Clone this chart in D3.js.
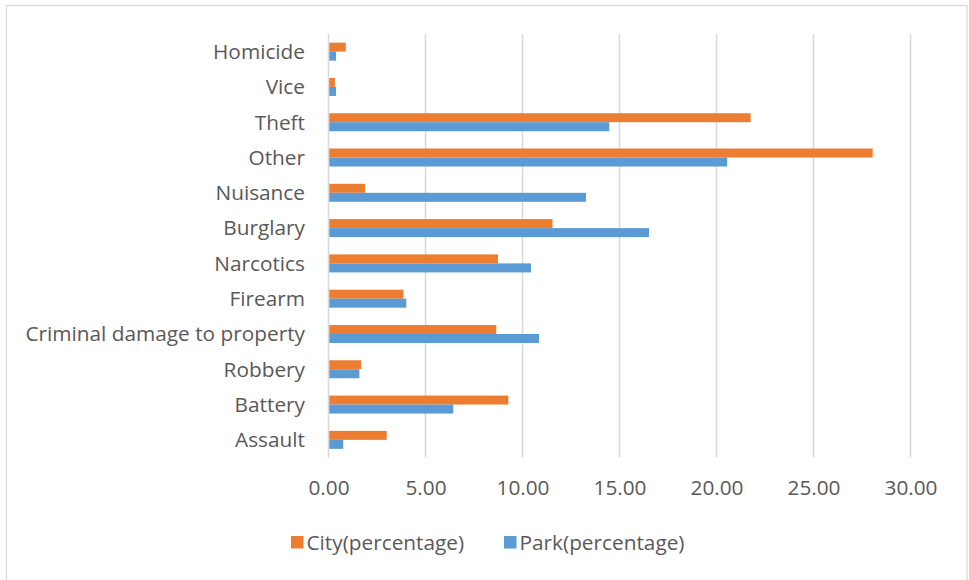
<!DOCTYPE html>
<html>
<head>
<meta charset="utf-8">
<script src="https://cdn.jsdelivr.net/npm/d3@7/dist/d3.min.js"></script>
<style>
  html, body { margin: 0; padding: 0; background: #fff; }
  svg { display: block; }
  text { font-family: "Open Sans", Lato, sans-serif; fill: #595959; }
</style>
</head>
<body>
<svg id="chart" width="969" height="580"></svg>
<script>
// Crime categories, listed top to bottom
const categories = ["Homicide", "Vice", "Theft", "Other", "Nuisance", "Burglary",
  "Narcotics", "Firearm", "Criminal damage to property", "Robbery", "Battery", "Assault"];
// Share of incidents (%) per category
const cityValues = [0.89, 0.33, 21.76, 28.05, 1.88, 11.55, 8.74, 3.86, 8.65, 1.69, 9.27, 3.0];
const parkValues = [0.39, 0.39, 14.47, 20.55, 13.27, 16.52, 10.44, 4.01, 10.85, 1.59, 6.43, 0.76];
const seriesNames = ["City(percentage)", "Park(percentage)"];
const seriesKeys = ["city", "park"];
const xTicks = [0, 5, 10, 15, 20, 25, 30];

const colors = { city: "#ED7D31", park: "#5B9BD5" };
const FONT = "'Open Sans', Lato, sans-serif";
const FONT_SIZE = 20.8;

const rows = categories.map((c, i) => ({ category: c, city: cityValues[i], park: parkValues[i] }));

const svg = d3.select("#chart");
const W = 969, H = 580;
const plot = { left: 328.5, right: 910.5, top: 34, bottom: 457.5 };

// Chart frame
svg.append("rect")
  .attr("x", 6.5).attr("y", 5.5)
  .attr("width", W - 2 - 6.5).attr("height", H + 10)
  .attr("fill", "#fff").attr("stroke", "#d9d9d9").attr("stroke-width", 1.3);

const x = d3.scaleLinear().domain([0, 30]).range([plot.left, plot.right]);
const y = d3.scaleBand().domain(categories).range([plot.top, plot.bottom])
  .paddingInner(0.49).paddingOuter(0.245);
const ySub = d3.scaleBand().domain(seriesKeys).range([0, y.bandwidth()]);

// Vertical gridlines
svg.append("g")
  .selectAll("line")
  .data(xTicks)
  .join("line")
  .attr("x1", d => x(d)).attr("x2", d => x(d))
  .attr("y1", plot.top).attr("y2", plot.bottom)
  .attr("stroke", "#d9d9d9").attr("stroke-width", 1.6);

// Bars
const groups = svg.append("g")
  .selectAll("g")
  .data(rows)
  .join("g")
  .attr("transform", d => `translate(0,${y(d.category)})`);

groups.selectAll("rect")
  .data(d => seriesKeys.map(k => ({ key: k, value: d[k] })))
  .join("rect")
  .attr("x", x(0) + 0.8)
  .attr("y", d => ySub(d.key))
  .attr("width", d => x(d.value) - x(0) - 0.8)
  .attr("height", ySub.bandwidth())
  .attr("fill", d => colors[d.key]);

// Category labels
const yAxis = d3.axisLeft(y).tickSize(0).tickPadding(0);
const gy = svg.append("g")
  .attr("transform", `translate(305,0)`)
  .call(yAxis);
gy.select(".domain").remove();
gy.selectAll("text")
  .attr("font-size", FONT_SIZE)
  .style("font-family", FONT)
  .attr("fill", "#595959")
  .attr("dy", "0.35em");

// Value axis labels
const xAxis = d3.axisBottom(x).tickValues(xTicks).tickFormat(d3.format(".2f")).tickSize(0).tickPadding(0);
const gx = svg.append("g")
  .attr("transform", `translate(0,488)`)
  .call(xAxis);
gx.select(".domain").remove();
gx.selectAll("text")
  .attr("font-size", FONT_SIZE)
  .style("font-family", FONT)
  .attr("fill", "#595959")
  .attr("dy", "0.35em");

// Legend
const legendItems = [
  { name: seriesNames[0], key: "city", x: 291 },
  { name: seriesNames[1], key: "park", x: 504 }
];
const legend = svg.append("g")
  .selectAll("g")
  .data(legendItems)
  .join("g")
  .attr("transform", d => `translate(${d.x},536)`);
legend.append("rect")
  .attr("width", 12.5).attr("height", 12.5)
  .attr("fill", d => colors[d.key]);
legend.append("text")
  .attr("x", 15.5).attr("y", 6.5)
  .attr("dy", "0.35em")
  .attr("font-size", FONT_SIZE)
  .style("font-family", FONT)
  .text(d => d.name);
</script>
</body>
</html>
